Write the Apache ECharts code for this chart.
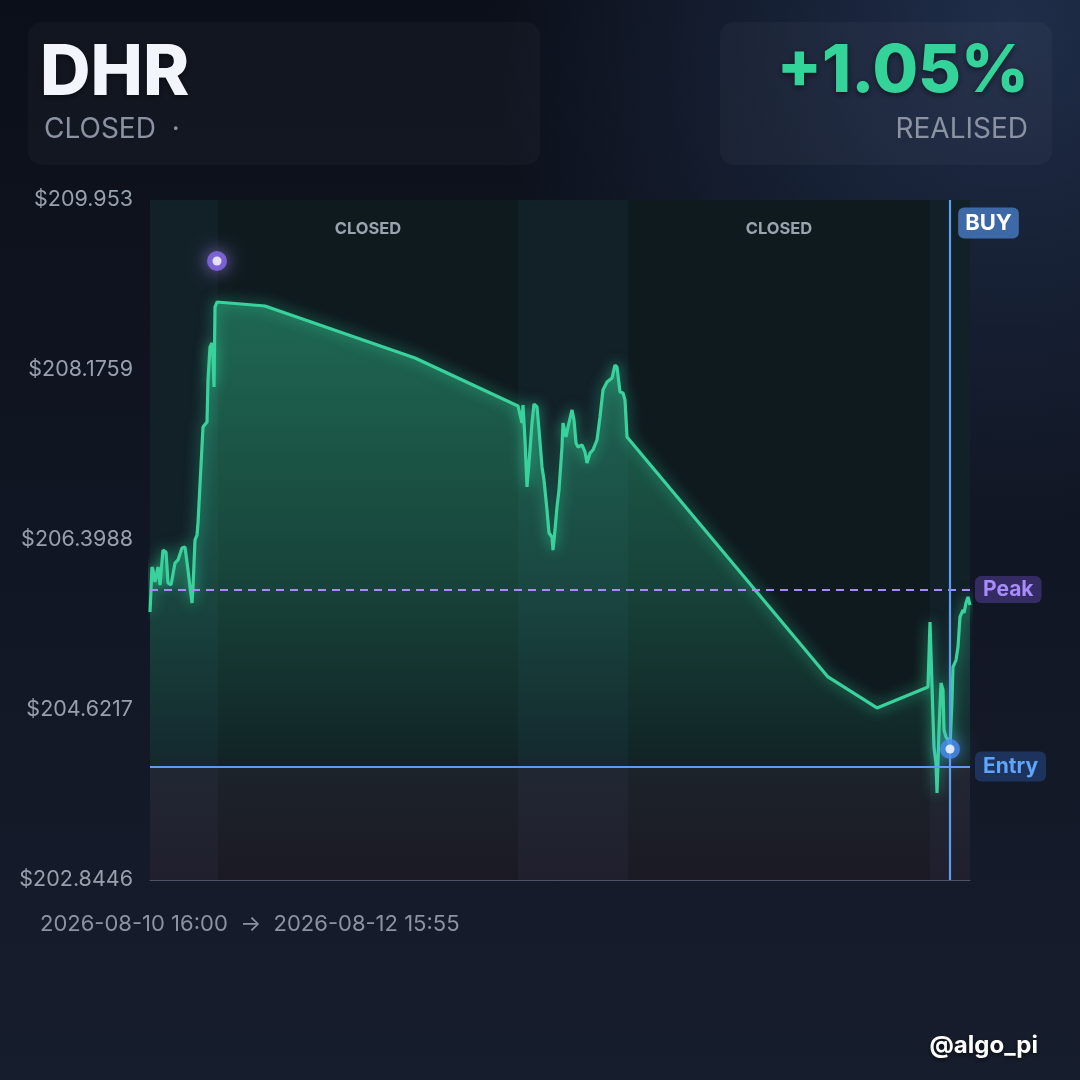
<!DOCTYPE html>
<html>
<head>
<meta charset="utf-8">
<script src="https://cdn.jsdelivr.net/npm/echarts@6/dist/echarts.min.js"></script>
<style>
html,body{margin:0;padding:0;background:#0f1520;}
#chart{width:1080px;height:1080px;}
</style>
</head>
<body>
<div id="chart"></div>
<script>
// ---- header / footer text ----
const ticker = 'DHR';
const statusText = 'CLOSED  ·';
const pnlText = '+1.05%';
const pnlLabel = 'REALISED';
const rangeStart = '2026-08-10 16:00';
const rangeEnd = '2026-08-12 15:55';
const handle = '@algo_pi';

// ---- y axis ----
const yMin = 202.84446;
const yMax = 209.953;
const yTickLabels = ['$202.8446', '$204.6217', '$206.3988', '$208.1759', '$209.953'];

// ---- session bands (x in 5-min slots on compressed timeline) ----
const bandStart = [0, 68, 368, 478, 780];
const bandEnd = [68, 368, 478, 780, 820];
const bandClosed = [false, true, false, true, false];
const closedLabel = 'CLOSED';

// ---- price path ----
const slots = [0, 2, 3, 5, 8, 10, 13, 16, 18, 21, 25, 28, 32, 35, 38, 40, 42, 43, 45, 47, 48,
  53, 57, 58, 60, 62, 63, 64, 65, 67, 115, 265, 368,
  370, 372, 373, 375, 377, 379, 382, 384, 387, 389, 392, 394, 397, 399, 402, 403, 405, 407, 409,
  412, 413, 416, 418, 422, 424, 426, 428, 432, 435, 437, 440, 443, 447, 450, 453, 457, 462, 465,
  467, 470, 473, 475, 477, 478, 678, 727, 778,
  780, 782, 783, 784, 786, 787, 788, 789, 791, 793, 794, 796, 798, 800, 802, 803, 806, 808, 810,
  813, 814, 816, 818, 820];
const prices = [205.646, 206.117, 206.085, 205.960, 206.117, 205.928, 206.294, 206.273, 205.949, 205.928,
  206.158, 206.190, 206.315, 206.326, 206.085, 205.907, 205.740, 205.907, 206.399, 206.451, 206.576,
  207.580, 207.632, 208.071, 208.416, 208.458, 208.312, 207.998, 208.834, 208.887, 208.845, 208.301, 207.800,
  207.789, 207.622, 207.810, 207.444, 206.953, 207.204, 207.622, 207.820, 207.789, 207.549, 207.162,
  207.026, 206.712, 206.472, 206.430, 206.294, 206.503, 206.744, 206.921,
  207.371, 207.622, 207.476, 207.580, 207.758, 207.653, 207.413, 207.371, 207.392, 207.319, 207.204,
  207.308, 207.340, 207.444, 207.685, 207.967, 208.050, 208.092, 208.228,
  208.207, 207.946, 207.935, 207.862, 207.476, 207.465, 204.967, 204.643, 204.862,
  205.542, 205.531, 204.548, 204.235, 204.068, 203.754, 204.068, 204.413, 204.904, 204.831, 204.413,
  204.339, 204.308, 204.235, 204.726, 205.071, 205.144, 205.280, 205.594,
  205.667, 205.636, 205.740, 205.803, 205.719];

// ---- levels & markers ----
const entryPrice = 204.026;
const peakLevel = 205.876;
const buySlot = 800;
const entryDot = [800, 204.214];
const peakDot = [67, 209.315];

const FONT = 'Inter, "Noto Sans", sans-serif';
const lineData = slots.map((s, i) => [s, prices[i]]);

// band rectangles: upper (above entry) and lower (below entry)
const bandAreas = [];
for (let i = 0; i < bandStart.length; i++) {
  bandAreas.push([
    { xAxis: bandStart[i], yAxis: entryPrice,
      itemStyle: { color: bandClosed[i] ? '#0f1a1f' : '#122028' },
      label: bandClosed[i] ? { show: true, formatter: closedLabel } : { show: false } },
    { xAxis: bandEnd[i], yAxis: yMax }
  ]);
  bandAreas.push([
    { xAxis: bandStart[i], yAxis: yMin,
      itemStyle: { color: bandClosed[i] ? '#1b1a24' : '#201f2d' }, label: { show: false } },
    { xAxis: bandEnd[i], yAxis: entryPrice }
  ]);
}

const chart = echarts.init(document.getElementById('chart'), null, { renderer: 'canvas' });

const option = {
  animation: false,
  backgroundColor: {
    type: 'linear', x: 0, y: 0, x2: 0, y2: 1,
    colorStops: [{ offset: 0, color: '#0b0f19' }, { offset: 1, color: '#161d2d' }]
  },
  textStyle: { fontFamily: FONT },
  grid: { left: 150, right: 110, top: 200, bottom: 200 },
  xAxis: {
    type: 'value', min: 0, max: 820,
    axisLabel: { show: false }, axisTick: { show: false },
    splitLine: { show: false },
    axisLine: { show: true, lineStyle: { color: '#4b5467', width: 1 } },
    z: 1
  },
  yAxis: {
    type: 'value', min: yMin, max: yMax, interval: (yMax - yMin) / 4,
    z: 1,
    axisLine: { show: false }, axisTick: { show: false },
    splitLine: { show: true, lineStyle: { color: 'rgba(150,160,180,0.45)', width: 1 } },
    axisLabel: {
      color: '#98a0ad', fontSize: 21.5, fontFamily: FONT, margin: 17,
      formatter: function (v) {
        const idx = Math.round((v - yMin) / ((yMax - yMin) / 4));
        return yTickLabels[Math.max(0, Math.min(4, idx))];
      }
    }
  },
  graphic: [
    {
      type: 'circle', z: -20, silent: true,
      shape: { cx: 1010, cy: 20, r: 520 },
      style: {
        fill: {
          type: 'radial', x: 0.5, y: 0.5, r: 0.5,
          colorStops: [{ offset: 0, color: 'rgba(38,56,90,0.75)' }, { offset: 1, color: 'rgba(38,56,90,0)' }]
        }
      }
    },
    { type: 'rect', z: -5, shape: { x: 28, y: 22, width: 512, height: 143, r: 14 },
      style: { fill: 'rgba(255,255,255,0.028)' } },
    { type: 'rect', z: -5, shape: { x: 720, y: 22, width: 332, height: 143, r: 14 },
      style: { fill: 'rgba(255,255,255,0.03)' } },
    { type: 'text', z: 10, style: { x: 40, y: 74, text: ticker, fill: '#f2f5fb',
      font: '800 70px ' + FONT, textVerticalAlign: 'middle',
      textShadowColor: 'rgba(0,0,0,0.5)', textShadowBlur: 6, textShadowOffsetY: 2 } },
    { type: 'text', z: 10, style: { x: 44, y: 130, text: statusText, fill: '#8b93a3',
      font: '400 28px ' + FONT, textVerticalAlign: 'middle' } },
    { type: 'text', z: 10, style: { x: 1029, y: 72, text: pnlText, fill: '#34d399',
      font: '800 66px ' + FONT, textAlign: 'right', textVerticalAlign: 'middle',
      textShadowColor: 'rgba(0,0,0,0.5)', textShadowBlur: 6, textShadowOffsetY: 2 } },
    { type: 'text', z: 10, style: { x: 1028, y: 130, text: pnlLabel, fill: '#8b93a3',
      font: '400 28px ' + FONT, textAlign: 'right', textVerticalAlign: 'middle' } },
    { type: 'text', z: 10, style: { x: 40, y: 924, text: rangeStart + '  →  ' + rangeEnd, fill: '#8b93a3',
      font: '400 22px ' + FONT, textVerticalAlign: 'middle' } },
    { type: 'text', z: 10, style: { x: 1038, y: 1046, text: handle, fill: '#ffffff',
      font: '700 24px ' + FONT, textAlign: 'right', textVerticalAlign: 'middle',
      textShadowColor: 'rgba(0,0,0,0.6)', textShadowBlur: 4, textShadowOffsetY: 2 } }
  ],
  series: [
    {
      name: 'bands', type: 'line', z: 0, data: [], silent: true,
      markArea: {
        silent: true,
        label: { position: 'insideTop', distance: 21, color: '#9aa3b0', fontSize: 16.5, fontWeight: 'bold', fontFamily: FONT },
        data: bandAreas
      }
    },
    {
      name: 'price', type: 'line', z: 3, data: lineData,
      symbol: 'none', smooth: false,
      lineStyle: { color: '#3ad29c', width: 3.2, shadowColor: 'rgba(52,211,153,0.8)', shadowBlur: 14 },
      areaStyle: {
        origin: 'start',
        color: {
          type: 'linear', x: 0, y: 0, x2: 0, y2: 1,
          colorStops: [
            { offset: 0, color: 'rgba(52,211,153,0.6)' },
            { offset: 0.45, color: 'rgba(52,211,153,0.34)' },
            { offset: 0.8, color: 'rgba(52,211,153,0.07)' },
            { offset: 1, color: 'rgba(52,211,153,0)' }
          ]
        }
      },
      markLine: {
        silent: true, symbol: 'none', animation: false,
        data: [
          {
            yAxis: entryPrice,
            lineStyle: { color: '#5b9cf0', width: 2, type: 'solid' },
            label: { show: true, position: 'end', formatter: 'Entry', distance: 5,
              color: '#60a5fa', fontSize: 21, fontWeight: 'bold', fontFamily: FONT,
              backgroundColor: 'rgba(59,130,246,0.25)', padding: [5, 8, 4, 8], borderRadius: 6 }
          },
          {
            yAxis: peakLevel,
            lineStyle: { color: '#a78bfa', width: 2, type: [8, 6] },
            label: { show: true, position: 'end', formatter: 'Peak', distance: 5,
              color: '#a78bfa', fontSize: 21, fontWeight: 'bold', fontFamily: FONT,
              backgroundColor: 'rgba(139,92,246,0.3)', padding: [3, 8, 3, 8], borderRadius: 6 }
          },
          {
            xAxis: buySlot,
            lineStyle: { color: '#5b9cf0', width: 2.2, type: 'solid' },
            label: { show: false }
          }
        ]
      },
      markPoint: {
        silent: true,
        data: [{
          coord: [buySlot, yMax], symbol: 'rect', symbolSize: 0,
          label: { show: true, formatter: 'BUY', position: 'inside', offset: [38.5, 23],
            color: '#ffffff', fontSize: 22, fontWeight: 'bold', fontFamily: FONT,
            backgroundColor: '#3d6aa6', padding: [5, 7, 4, 7], borderRadius: 6 }
        }]
      }
    },
    {
      name: 'peakDot', type: 'scatter', z: 5, data: [peakDot],
      symbolSize: 20,
      itemStyle: { color: '#8b6cf0', shadowColor: 'rgba(167,139,250,0.95)', shadowBlur: 18 }
    },
    {
      name: 'peakDotCore', type: 'scatter', z: 6, data: [peakDot],
      symbolSize: 9, itemStyle: { color: '#ffffff' }
    },
    {
      name: 'entryDot', type: 'scatter', z: 5, data: [entryDot],
      symbolSize: 20,
      itemStyle: { color: '#4a8cf0', shadowColor: 'rgba(96,165,250,0.95)', shadowBlur: 18 }
    },
    {
      name: 'entryDotCore', type: 'scatter', z: 6, data: [entryDot],
      symbolSize: 9, itemStyle: { color: '#ffffff' }
    }
  ]
};
chart.setOption(option);
</script>
</body>
</html>
